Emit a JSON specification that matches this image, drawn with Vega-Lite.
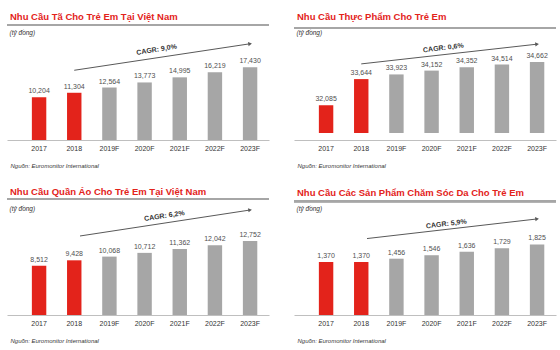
{
  "$schema": "https://vega.github.io/schema/vega-lite/v6.json",
  "background": "white",
  "padding": {"left": 6, "top": 11, "right": 5, "bottom": 3},
  "columns": 2,
  "spacing": {"row": 18, "column": 23},
  "datasets": {
    "ta": [
      {"year": "2017", "value": 10204, "kind": "actual"},
      {"year": "2018", "value": 11304, "kind": "actual"},
      {"year": "2019F", "value": 12564, "kind": "forecast"},
      {"year": "2020F", "value": 13773, "kind": "forecast"},
      {"year": "2021F", "value": 14995, "kind": "forecast"},
      {"year": "2022F", "value": 16219, "kind": "forecast"},
      {"year": "2023F", "value": 17430, "kind": "forecast"}
    ],
    "thucpham": [
      {"year": "2017", "value": 32085, "kind": "actual"},
      {"year": "2018", "value": 33644, "kind": "actual"},
      {"year": "2019F", "value": 33923, "kind": "forecast"},
      {"year": "2020F", "value": 34152, "kind": "forecast"},
      {"year": "2021F", "value": 34352, "kind": "forecast"},
      {"year": "2022F", "value": 34514, "kind": "forecast"},
      {"year": "2023F", "value": 34662, "kind": "forecast"}
    ],
    "quanao": [
      {"year": "2017", "value": 8512, "kind": "actual"},
      {"year": "2018", "value": 9428, "kind": "actual"},
      {"year": "2019F", "value": 10068, "kind": "forecast"},
      {"year": "2020F", "value": 10712, "kind": "forecast"},
      {"year": "2021F", "value": 11362, "kind": "forecast"},
      {"year": "2022F", "value": 12042, "kind": "forecast"},
      {"year": "2023F", "value": 12752, "kind": "forecast"}
    ],
    "chamsoc": [
      {"year": "2017", "value": 1370, "kind": "actual"},
      {"year": "2018", "value": 1370, "kind": "actual"},
      {"year": "2019F", "value": 1456, "kind": "forecast"},
      {"year": "2020F", "value": 1546, "kind": "forecast"},
      {"year": "2021F", "value": 1636, "kind": "forecast"},
      {"year": "2022F", "value": 1729, "kind": "forecast"},
      {"year": "2023F", "value": 1825, "kind": "forecast"}
    ],
    "note": [{"label": "CAGR"}]
  },
  "concat": [
    {
      "title": "Nhu Cầu Tã Cho Trẻ Em Tại Việt Nam",
      "width": 262, "height": 117,
      "layer": [
        {"data": {"name": "ta"}, "mark": {"type": "rule", "color": "#a6a6a6", "strokeWidth": 2}, "encoding": {"y": {"datum": 27500, "type": "quantitative", "scale": {"domain": [0, 27500]}, "axis": {"title": "(tỷ đồng)"}}}},
        {"data": {"name": "ta"}, "mark": {"type": "bar"}, "encoding": {
          "x": {"field": "year", "type": "nominal", "scale": {"domain": ["2017","2018","2019F","2020F","2021F","2022F","2023F"], "paddingInner": 0.59, "paddingOuter": 0.52, "align": 0.68}, "axis": {"title": "Nguồn: Euromonitor International"}},
          "y": {"field": "value", "type": "quantitative"},
          "color": {"field": "kind", "type": "nominal", "scale": {"domain": ["actual", "forecast"], "range": ["#e3231b", "#a6a6a6"]}, "legend": null}}},
        {"data": {"name": "ta"}, "mark": {"type": "text", "dy": -6, "fontSize": 7, "color": "#505050"}, "encoding": {"x": {"field": "year", "type": "nominal"}, "y": {"field": "value", "type": "quantitative"}, "text": {"field": "value", "type": "quantitative", "format": ","}}},
        {"data": {"name": "note"}, "mark": {"type": "rule", "color": "#595959", "strokeWidth": 1}, "encoding": {"x": {"datum": "2018"}, "x2": {"datum": "2023F"}, "y": {"datum": 16688}, "y2": {"datum": 23034}}},
        {"data": {"name": "note"}, "mark": {"type": "point", "shape": "triangle-right", "filled": true, "size": 18, "color": "#595959", "angle": -9, "opacity": 1}, "encoding": {"x": {"datum": "2023F"}, "y": {"datum": 23034}}},
        {"data": {"name": "note"}, "mark": {"type": "text", "text": "CAGR: 9,0%", "fontWeight": "bold", "fontSize": 7, "angle": -9, "dx": 12, "dy": 1, "color": "#333"}, "encoding": {"x": {"datum": "2020F"}, "y": {"datum": 21389}}}
      ]
    },
    {
      "title": "Nhu Cầu Thực Phẩm Cho Trẻ Em",
      "width": 262, "height": 117,
      "layer": [
        {"data": {"name": "thucpham"}, "mark": {"type": "rule", "color": "#a6a6a6", "strokeWidth": 2}, "encoding": {"y": {"datum": 36700, "type": "quantitative", "scale": {"domain": [30420, 36700], "zero": false}, "axis": {"title": "(tỷ đồng)"}}}},
        {"data": {"name": "thucpham"}, "mark": {"type": "bar"}, "encoding": {
          "x": {"field": "year", "type": "nominal", "scale": {"domain": ["2017","2018","2019F","2020F","2021F","2022F","2023F"], "paddingInner": 0.59, "paddingOuter": 0.52, "align": 0.68}, "axis": {"title": "Nguồn: Euromonitor International"}},
          "y": {"field": "value", "type": "quantitative"},
          "y2": {"datum": 30420},
          "color": {"field": "kind", "type": "nominal", "scale": {"domain": ["actual", "forecast"], "range": ["#e3231b", "#a6a6a6"]}, "legend": null}}},
        {"data": {"name": "thucpham"}, "mark": {"type": "text", "dy": -6, "fontSize": 7, "color": "#505050"}, "encoding": {"x": {"field": "year", "type": "nominal"}, "y": {"field": "value", "type": "quantitative"}, "text": {"field": "value", "type": "quantitative", "format": ","}}},
        {"data": {"name": "note"}, "mark": {"type": "rule", "color": "#595959", "strokeWidth": 1}, "encoding": {"x": {"datum": "2018"}, "x2": {"datum": "2023F"}, "y": {"datum": 34553}, "y2": {"datum": 35734}}},
        {"data": {"name": "note"}, "mark": {"type": "point", "shape": "triangle-right", "filled": true, "size": 18, "color": "#595959", "angle": -7, "opacity": 1}, "encoding": {"x": {"datum": "2023F"}, "y": {"datum": 35734}}},
        {"data": {"name": "note"}, "mark": {"type": "text", "text": "CAGR: 0,6%", "fontWeight": "bold", "fontSize": 7, "angle": -7, "dx": 12, "dy": -1, "color": "#333"}, "encoding": {"x": {"datum": "2020F"}, "y": {"datum": 35358}}}
      ]
    },
    {
      "title": "Nhu Cầu Quần Áo Cho Trẻ Em Tại Việt Nam",
      "width": 262, "height": 116,
      "layer": [
        {"data": {"name": "quanao"}, "mark": {"type": "rule", "color": "#a6a6a6", "strokeWidth": 2}, "encoding": {"y": {"datum": 20000, "type": "quantitative", "scale": {"domain": [0, 20000]}, "axis": {"title": "(tỷ đồng)"}}}},
        {"data": {"name": "quanao"}, "mark": {"type": "bar"}, "encoding": {
          "x": {"field": "year", "type": "nominal", "scale": {"domain": ["2017","2018","2019F","2020F","2021F","2022F","2023F"], "paddingInner": 0.59, "paddingOuter": 0.52, "align": 0.68}, "axis": {"title": "Nguồn: Euromonitor International"}},
          "y": {"field": "value", "type": "quantitative"},
          "color": {"field": "kind", "type": "nominal", "scale": {"domain": ["actual", "forecast"], "range": ["#e3231b", "#a6a6a6"]}, "legend": null}}},
        {"data": {"name": "quanao"}, "mark": {"type": "text", "dy": -6, "fontSize": 7, "color": "#505050"}, "encoding": {"x": {"field": "year", "type": "nominal"}, "y": {"field": "value", "type": "quantitative"}, "text": {"field": "value", "type": "quantitative", "format": ","}}},
        {"data": {"name": "note"}, "mark": {"type": "rule", "color": "#595959", "strokeWidth": 1}, "encoding": {"x": {"datum": "2018", "bandPosition": 0.9}, "x2": {"datum": "2023F"}, "y": {"datum": 13621}, "y2": {"datum": 18103}}},
        {"data": {"name": "note"}, "mark": {"type": "point", "shape": "triangle-right", "filled": true, "size": 18, "color": "#595959", "angle": -8.5, "opacity": 1}, "encoding": {"x": {"datum": "2023F"}, "y": {"datum": 18103}}},
        {"data": {"name": "note"}, "mark": {"type": "text", "text": "CAGR: 6,2%", "fontWeight": "bold", "fontSize": 7, "angle": -8.5, "dx": 20, "dy": 0, "color": "#333"}, "encoding": {"x": {"datum": "2020F"}, "y": {"datum": 16552}}}
      ]
    },
    {
      "title": "Nhu Cầu Các Sản Phẩm Chăm Sóc Da Cho Trẻ Em",
      "width": 262, "height": 116,
      "layer": [
        {"data": {"name": "chamsoc"}, "mark": {"type": "rule", "color": "#a6a6a6", "strokeWidth": 2}, "encoding": {"y": {"datum": 2940, "type": "quantitative", "scale": {"domain": [0, 2940]}, "axis": {"title": "(tỷ đồng)"}}}},
        {"data": {"name": "chamsoc"}, "mark": {"type": "bar"}, "encoding": {
          "x": {"field": "year", "type": "nominal", "scale": {"domain": ["2017","2018","2019F","2020F","2021F","2022F","2023F"], "paddingInner": 0.59, "paddingOuter": 0.52, "align": 0.68}, "axis": {"title": "Nguồn: Euromonitor International"}},
          "y": {"field": "value", "type": "quantitative"},
          "color": {"field": "kind", "type": "nominal", "scale": {"domain": ["actual", "forecast"], "range": ["#e3231b", "#a6a6a6"]}, "legend": null}}},
        {"data": {"name": "chamsoc"}, "mark": {"type": "text", "dy": -6, "fontSize": 7, "color": "#505050"}, "encoding": {"x": {"field": "year", "type": "nominal"}, "y": {"field": "value", "type": "quantitative"}, "text": {"field": "value", "type": "quantitative", "format": ","}}},
        {"data": {"name": "note"}, "mark": {"type": "rule", "color": "#595959", "strokeWidth": 1}, "encoding": {"x": {"datum": "2018", "bandPosition": 0.9}, "x2": {"datum": "2023F"}, "y": {"datum": 1977}, "y2": {"datum": 2484}}},
        {"data": {"name": "note"}, "mark": {"type": "point", "shape": "triangle-right", "filled": true, "size": 18, "color": "#595959", "angle": -7, "opacity": 1}, "encoding": {"x": {"datum": "2023F"}, "y": {"datum": 2484}}},
        {"data": {"name": "note"}, "mark": {"type": "text", "text": "CAGR: 5,9%", "fontWeight": "bold", "fontSize": 7, "angle": -7, "dx": 15, "dy": -1, "color": "#333"}, "encoding": {"x": {"datum": "2020F"}, "y": {"datum": 2281}}}
      ]
    }
  ],
  "config": {
    "font": "Liberation Sans",
    "view": {"stroke": null},
    "title": {"anchor": "start", "color": "#e3231b", "fontSize": 9.5, "fontWeight": "bold", "font": "Liberation Sans", "offset": 2, "dx": 4},
    "axisX": {"labelAngle": 0, "labelFontSize": 7, "labelColor": "#333", "ticks": false, "domainColor": "#bfbfbf", "labelPadding": 4, "grid": false, "titleAlign": "left", "titleAnchor": "start", "titleX": 3, "titleY": 27, "titleBaseline": "alphabetic", "titleFontSize": 6, "titleFontStyle": "italic", "titleFontWeight": "normal", "titleColor": "#333"},
    "axisY": {"labels": false, "ticks": false, "domain": false, "grid": false, "minExtent": 0, "titleAngle": 0, "titleAlign": "left", "titleBaseline": "middle", "titleX": 2, "titleY": 9, "titleFontSize": 6.5, "titleFontStyle": "italic", "titleFontWeight": "normal", "titleColor": "#333"}
  }
}
